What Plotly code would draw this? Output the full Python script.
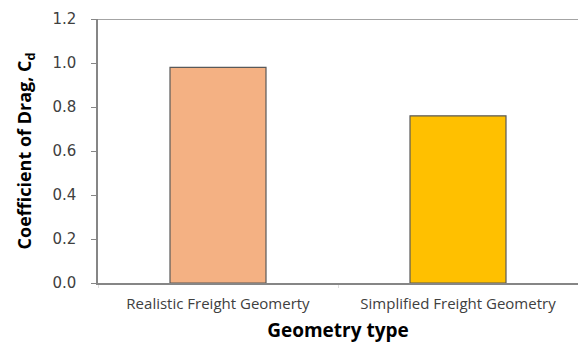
import plotly.graph_objects as go

categories = ["Realistic Freight Geomerty", "Simplified Freight Geometry"]
cd_values = [0.98, 0.76]
bar_colors = ["#F4B183", "#FFC000"]
y_ticks = [0.0, 0.2, 0.4, 0.6, 0.8, 1.0, 1.2]

fig = go.Figure(go.Bar(
    x=categories, y=cd_values, width=0.4,
    marker=dict(color=bar_colors, line=dict(color="#595959", width=1.2)),
))

font = "Open Sans, Liberation Sans, sans-serif"
fig.update_layout(
    width=578, height=343,
    margin=dict(l=98, r=0, t=19, b=60),
    plot_bgcolor="white", paper_bgcolor="white",
    showlegend=False,
    font=dict(family=font, color="#404040"),
)
# top border line of the plot area
fig.add_shape(type="line", xref="paper", yref="y", x0=0, x1=1, y0=1.2, y1=1.2,
              line=dict(color="#868686", width=1.5))
fig.update_yaxes(
    range=[0, 1.2], tickvals=y_ticks, ticktext=[f"{v:.1f}" for v in y_ticks],
    showgrid=False, zeroline=False, showline=True, linecolor="#868686", linewidth=1.5,
    ticks="outside", ticklen=5, tickcolor="#868686", ticklabelstandoff=12,
    tickfont=dict(size=15, color="#404040", family="DejaVu Sans, sans-serif"),
    title=dict(text="<b>Coefficient of Drag, C<sub>d</sub></b>",
               font=dict(size=18, color="#000000", family=font), standoff=16),
)
fig.update_xaxes(
    showgrid=False, showline=True, linecolor="#868686", linewidth=1.5,
    ticks="outside", tickson="boundaries", ticklen=3, tickcolor="#dddddd",
    ticklabelstandoff=6,
    tickfont=dict(size=15, color="#404040", family=font),
    title=dict(text="<b>Geometry type</b>", font=dict(size=19, color="#000000", family=font), standoff=12),
)

fig.write_html("out.html")
